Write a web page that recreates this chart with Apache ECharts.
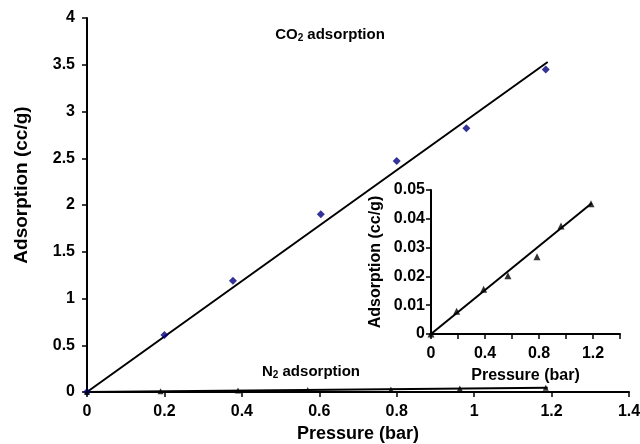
<!DOCTYPE html>
<html>
<head>
<meta charset="utf-8">
<script src="https://cdn.jsdelivr.net/npm/echarts@6/dist/echarts.min.js"></script>
<style>
  html, body { margin: 0; padding: 0; background: #fff; }
  #chart { width: 640px; height: 444px; }
</style>
</head>
<body>
<div id="chart"></div>
<script>
// pressure (bar) / adsorption (cc/g)
const CO2_P = [0, 0.2, 0.377, 0.604, 0.8, 0.98, 1.185];
const CO2_A = [0, 0.61, 1.19, 1.9, 2.47, 2.82, 3.45];
const CO2_FIT = [[0, 0], [1.19, 3.53]];

const N2_P = [0, 0.19, 0.39, 0.57, 0.785, 0.963, 1.185];
const N2_A = [0, 0.0079, 0.0155, 0.0202, 0.0268, 0.0375, 0.0452];
const N2_FIT = [[0, 0], [1.19, 0.0454]];

const FONT = "'Liberation Sans', Arial, sans-serif";

const chart = echarts.init(document.getElementById('chart'));

const axisBase = {
    type: 'value',
    splitLine: { show: false },
    axisLine: { lineStyle: { color: '#000', width: 2 } },
    axisTick: { lineStyle: { color: '#000', width: 1.5 }, length: 5 },
    nameLocation: 'middle',
    nameTextStyle: { color: '#000', fontFamily: FONT, fontWeight: 'bold', fontSize: 18 },
    axisLabel: { color: '#000', fontFamily: FONT, fontWeight: 'bold', fontSize: 16 }
};

const subStyle = { fontSize: 10, fontWeight: 'bold', fontFamily: FONT, verticalAlign: 'bottom', padding: [7, 0, 0, 0] };

const pairs = (xs, ys) => xs.map((x, i) => [x, ys[i]]);

chart.setOption({
    animation: false,
    backgroundColor: '#fff',
    title: [
        {
            text: 'CO{sub|2} adsorption', left: 325, top: 21, textAlign: 'center',
            textStyle: { color: '#000', fontFamily: FONT, fontWeight: 'bold', fontSize: 15, rich: { sub: subStyle } }
        },
        {
            text: 'N{sub|2} adsorption', left: 306, top: 358, textAlign: 'center',
            textStyle: { color: '#000', fontFamily: FONT, fontWeight: 'bold', fontSize: 15, rich: { sub: subStyle } }
        }
    ],
    grid: [
        { left: 87, top: 18, width: 542, height: 374, containLabel: false, outerBoundsMode: 'none' },
        { left: 431, top: 190, width: 189, height: 144, containLabel: false, outerBoundsMode: 'none' }
    ],
    xAxis: [
        {
            ...axisBase, gridIndex: 0, min: 0, max: 1.4, interval: 0.2,
            name: 'Pressure (bar)', nameGap: 33,
            axisLabel: { ...axisBase.axisLabel, margin: 12 }
        },
        {
            ...axisBase, gridIndex: 1, min: 0, max: 1.4, interval: 0.2,
            name: 'Pressure (bar)', nameGap: 34,
            nameTextStyle: { ...axisBase.nameTextStyle, fontSize: 16 },
            axisLabel: {
                ...axisBase.axisLabel, margin: 12,
                formatter: v => (Math.round(v * 10) % 4 === 0 ? String(+v.toFixed(1)) : '')
            }
        }
    ],
    yAxis: [
        {
            ...axisBase, gridIndex: 0, min: 0, max: 4, interval: 0.5,
            name: 'Adsorption (cc/g)', nameGap: 56,
            nameTextStyle: { ...axisBase.nameTextStyle, fontSize: 19, padding: [0, 0, 0, 40] },
            axisLabel: { ...axisBase.axisLabel, margin: 12 }
        },
        {
            ...axisBase, gridIndex: 1, min: 0, max: 0.05, interval: 0.01,
            name: 'Adsorption (cc/g)', nameGap: 47,
            nameTextStyle: { ...axisBase.nameTextStyle, fontSize: 16 },
            axisLabel: { ...axisBase.axisLabel, margin: 6 }
        }
    ],
    series: [
        {
            type: 'line', xAxisIndex: 0, yAxisIndex: 0, data: CO2_FIT,
            symbol: 'none', lineStyle: { color: '#000', width: 2 }, z: 2
        },
        {
            type: 'scatter', xAxisIndex: 0, yAxisIndex: 0, data: pairs(CO2_P, CO2_A),
            symbol: 'diamond', symbolSize: 8, itemStyle: { color: '#00007f' }, z: 3
        },
        {
            type: 'line', xAxisIndex: 0, yAxisIndex: 0, data: N2_FIT,
            symbol: 'none', lineStyle: { color: '#000', width: 2 }, z: 2
        },
        {
            type: 'scatter', xAxisIndex: 0, yAxisIndex: 0, data: pairs(N2_P, N2_A),
            symbol: 'triangle', symbolSize: 6, itemStyle: { color: '#000' }, z: 3
        },
        {
            type: 'line', xAxisIndex: 1, yAxisIndex: 1, data: N2_FIT,
            symbol: 'none', lineStyle: { color: '#000', width: 2 }, z: 2
        },
        {
            type: 'scatter', xAxisIndex: 1, yAxisIndex: 1, data: pairs(N2_P, N2_A),
            symbol: 'triangle', symbolSize: 7, itemStyle: { color: '#000' }, z: 3
        }
    ]
});
</script>
</body>
</html>
